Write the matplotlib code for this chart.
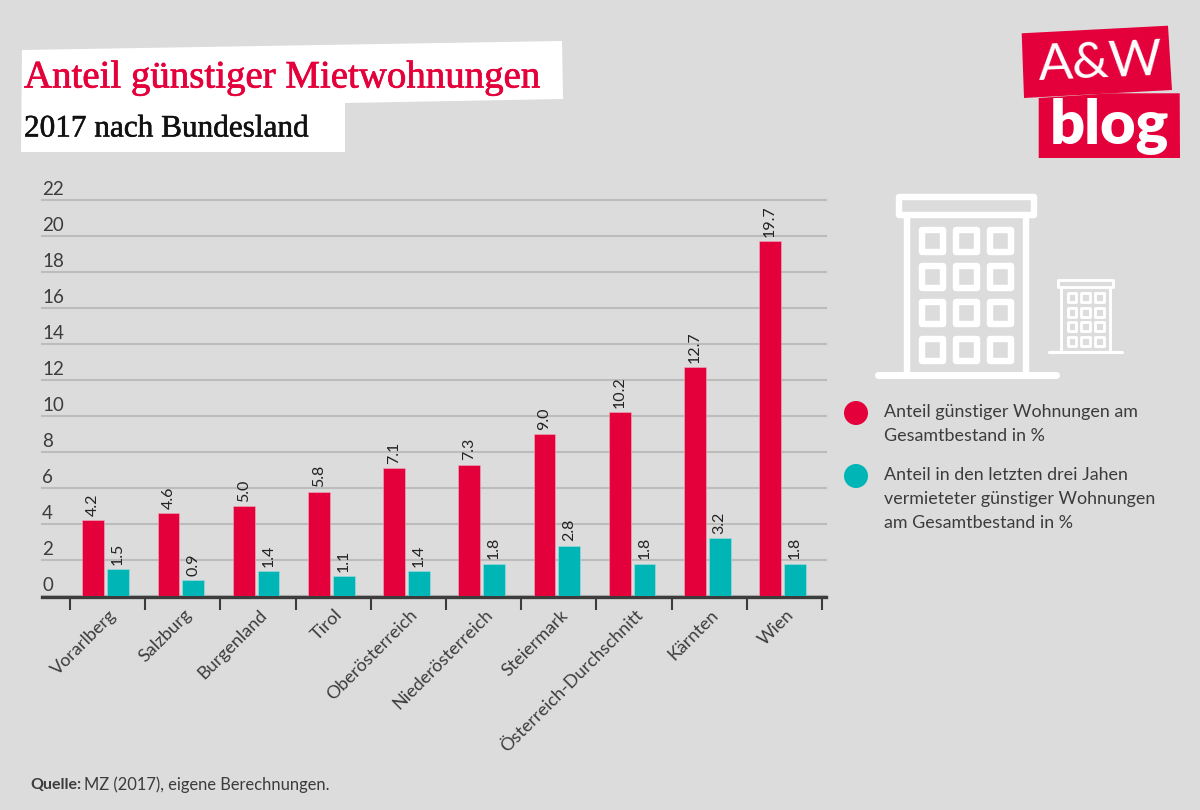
import matplotlib
matplotlib.use('Agg')
import matplotlib.pyplot as plt
import matplotlib.patheffects as pe
from matplotlib.patches import Polygon, Rectangle, Circle
from matplotlib.transforms import ScaledTranslation

# data
bundeslaender = ['Vorarlberg', 'Salzburg', 'Burgenland', 'Tirol', 'Oberösterreich',
                 'Niederösterreich', 'Steiermark', 'Österreich-Durchschnitt', 'Kärnten', 'Wien']
anteil_gesamt = [4.2, 4.6, 5.0, 5.8, 7.1, 7.3, 9.0, 10.2, 12.7, 19.7]
anteil_letzte_jahre = [1.5, 0.9, 1.4, 1.1, 1.4, 1.8, 2.8, 1.8, 3.2, 1.8]
y_ticks = list(range(0, 24, 2))

title = 'Anteil günstiger Mietwohnungen'
subtitle = '2017 nach Bundesland'
legend_1 = ['Anteil günstiger Wohnungen am', 'Gesamtbestand in %']
legend_2 = ['Anteil in den letzten drei Jahen', 'vermieteter günstiger Wohnungen', 'am Gesamtbestand in %']

BG = '#dcdcdc'
RED = '#e4003a'
TEAL = '#00b5b5'
DARK = '#3c3c3c'
GRID = '#bcbcbc'
SANS = 'Lato'
SLAB = 'Liberation Serif'

fig = plt.figure(figsize=(12, 8.1), dpi=100, facecolor=BG)

# chart area: x 42-826 px, y 200-596 px
ax = fig.add_axes([42 / 1200, (810 - 596) / 810, 784 / 1200, 396 / 810], facecolor='none')
ax.set_xlim(-0.872, 9.553)
ax.set_ylim(0, 22)

bar_w = 0.289
for i in range(len(bundeslaender)):
    ax.bar(i - 0.19, anteil_gesamt[i], bar_w, color=RED, edgecolor='#eeb0c0', linewidth=0.4, zorder=3)
    ax.bar(i + 0.14, anteil_letzte_jahre[i], bar_w, color=TEAL, edgecolor='#a8dcdc', linewidth=0.4, zorder=3)
    ax.annotate(f'{anteil_gesamt[i]:.1f}', (i - 0.19, anteil_gesamt[i]), xytext=(0, 3),
                textcoords='offset points', rotation=90, ha='center', va='bottom',
                fontsize=11.5, family=SANS, color='#222222')
    ax.annotate(f'{anteil_letzte_jahre[i]:.1f}', (i + 0.14, anteil_letzte_jahre[i]), xytext=(0, 3),
                textcoords='offset points', rotation=90, ha='center', va='bottom',
                fontsize=11.5, family=SANS, color='#222222')

for spine in ['top', 'left', 'right']:
    ax.spines[spine].set_visible(False)
ax.spines['bottom'].set_linewidth(2.4)
ax.spines['bottom'].set_color(DARK)
ax.spines['bottom'].set_position(('outward', 0.7))

ax.set_axisbelow(True)
ax.set_yticks(y_ticks)
ax.yaxis.grid(True, color=GRID, linewidth=1.5, clip_on=False)
ax.tick_params(axis='y', length=0, labelleft=False)
for v in y_ticks:
    ax.annotate(str(v), (0, v), xycoords=ax.get_yaxis_transform(), xytext=(0, 1.5),
                textcoords='offset points', ha='left', va='bottom',
                fontsize=13.5, family=SANS, color=DARK)

# ticks sit between the groups, names on the groups
ax.set_xticks([i - 0.5 for i in range(len(bundeslaender) + 1)])
ax.tick_params(axis='x', which='major', length=9, width=1.5, color=DARK, labelbottom=False)
ax.set_xticks(range(len(bundeslaender)), minor=True)
ax.set_xticklabels(bundeslaender, minor=True, rotation=45, ha='right', rotation_mode='anchor',
                   fontsize=13, family=SANS, color=DARK)
ax.tick_params(axis='x', which='minor', length=0, pad=7)
shift = ScaledTranslation(0.5 / 72, 0, fig.dpi_scale_trans)
for lab in ax.get_xticklabels(minor=True):
    lab.set_transform(lab.get_transform() + shift)

# overlay in pixel coordinates for title boxes, logo, icons, legend
ov = fig.add_axes([0, 0, 1, 1], facecolor='none')
ov.set_xlim(0, 1200)
ov.set_ylim(810, 0)
ov.axis('off')

ov.add_patch(Polygon([(22, 50), (562, 41), (563, 99), (345, 103), (345, 152), (21, 152)],
                     closed=True, color='white', lw=0))
t1 = ov.text(24, 78, title, color=RED, fontsize=28, family=SLAB, va='center', ha='left')
t2 = ov.text(24, 129, subtitle, color='#111111', fontsize=22.5, family=SLAB, va='center', ha='left')
t1.set_path_effects([pe.withStroke(linewidth=0.5, foreground=RED)])
t2.set_path_effects([pe.withStroke(linewidth=0.4, foreground='#111111')])

# logo
ov.add_patch(Polygon([(1021.7, 33.3), (1168, 25.7), (1172, 90), (1024, 98)], closed=True, color=RED, lw=0))
ov.add_patch(Polygon([(1038.7, 98), (1110, 93.3), (1179.7, 93.3), (1180, 158), (1038.7, 158)],
                     closed=True, color=RED, lw=0))
ov.text(1100, 63, 'A&W', color='white', fontsize=37, family=SANS, ha='center', va='center', rotation=2.5)
ov.text(1109, 126, 'blog', color='white', fontsize=44, family=SANS, weight='heavy', ha='center', va='center')


def draw_building(cx, base_y, s):
    ''' White outline house, s = 1 is the big one '''
    lw = 6 * s * 0.72 + 0.3
    # base line
    ov.plot([cx - 89 * s, cx + 89 * s], [base_y, base_y], color='white', lw=lw * 1.1,
            solid_capstyle='round')
    # walls
    for dx in [-59.5, 59.5]:
        ov.plot([cx + dx * s] * 2, [base_y, base_y - 157 * s], color='white', lw=lw)
    # roof
    ov.add_patch(Rectangle((cx - 67.5 * s, base_y - 178 * s), 135 * s, 18 * s, fill=False,
                           ec='white', lw=lw, joinstyle='round'))
    # windows
    for wx in [-34, 0, 34]:
        for wy in [-134, -98, -62, -25]:
            ov.add_patch(Rectangle((cx + (wx - 10.5) * s, base_y + (wy - 11) * s), 21 * s, 22 * s,
                                   fill=False, ec='white', lw=lw, joinstyle='round'))


draw_building(966.5, 375, 1)
draw_building(1085.7, 352, 0.407)

# legend
ov.add_patch(Circle((856, 413), 12, color=RED, lw=0))
ov.add_patch(Circle((856, 476), 12, color=TEAL, lw=0))
for line, y in zip(legend_1, [412, 436]):
    ov.text(884, y, line, fontsize=12.9, family=SANS, color=DARK, va='center', ha='left')
for line, y in zip(legend_2, [475, 499, 523]):
    ov.text(884, y, line, fontsize=12.9, family=SANS, color=DARK, va='center', ha='left')

# source
ov.text(30, 785, 'Quelle:', fontsize=11.5, family=SANS, weight='bold', color=DARK, va='center', ha='left')
ov.text(84, 785, 'MZ (2017), eigene Berechnungen.', fontsize=11.9, family=SANS, color=DARK, va='center', ha='left')

fig.savefig('out.png', dpi=100, facecolor=BG)
